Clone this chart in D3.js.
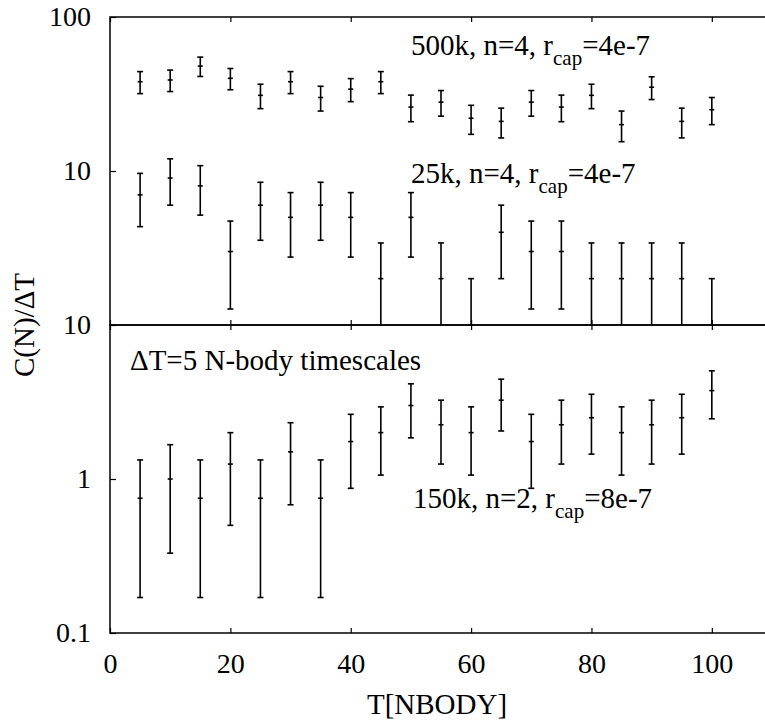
<!DOCTYPE html>
<meta charset="utf-8">
<style>
body { margin: 0; background: #fff; }
text { font-family: "Liberation Serif", "Times New Roman", serif; fill: #000; }
.frame { fill: none; stroke: #000; stroke-width: 1.5px; }
.bar { stroke: #000; stroke-width: 1.6px; }
</style>
<body>
<script src="https://cdnjs.cloudflare.com/ajax/libs/d3/7.8.5/d3.min.js"></script>
<script>

// times (N-body units)
var times = [5, 10, 15, 20, 25, 30, 35, 40, 45, 50, 55, 60, 65, 70, 75, 80, 85, 90, 95, 100];

// 500k, n=4 (top panel)
var rate500k = [38, 39, 48, 40, 31, 38, 30, 34, 38, 26, 28, 22, 21, 28, 26, 31, 20, 35, 21, 25];
var err500k  = [6.2, 6.2, 6.9, 6.3, 5.6, 6.2, 5.5, 5.8, 6.2, 5.1, 5.3, 4.7, 4.6, 5.3, 5.1, 5.6, 4.5, 5.9, 4.6, 5.0];

// 25k, n=4 (top panel)
var rate25k = [7, 9, 8, 3, 6, 5, 6, 5, 2, 5, 2, 1, 4, 3, 3, 2, 2, 2, 2, 1];
var err25k  = [2.65, 3, 2.83, 1.73, 2.45, 2.24, 2.45, 2.24, 1.41, 2.24, 1.41, 1, 2, 1.73, 1.73, 1.41, 1.41, 1.41, 1.41, 1];

// 150k, n=2 (bottom panel)
var rate150k = [0.75, 1, 0.75, 1.25, 0.75, 1.5, 0.75, 1.75, 2, 3, 2.25, 2, 3.25, 1.75, 2.25, 2.5, 2, 2.25, 2.5, 3.75];
var err150k  = [0.58, 0.67, 0.58, 0.75, 0.58, 0.82, 0.58, 0.88, 0.94, 1.15, 1.0, 0.94, 1.2, 0.88, 1.0, 1.05, 0.94, 1.0, 1.05, 1.29];

var xTicks = [0, 20, 40, 60, 80, 100];

var svg = d3.select("body").append("svg")
    .attr("width", 765)
    .attr("height", 724);

var pLeft = 110, pRight = 772, pTop = 17, pMid = 325, pBottom = 633;

var x = d3.scaleLinear().domain([0, 110]).range([pLeft, pRight]);
var yTop = d3.scaleLog().domain([1, 100]).range([pMid, pTop]).clamp(true);
var yBot = d3.scaleLog().domain([0.1, 10]).range([pBottom, pMid]).clamp(true);

// panel frames
svg.append("rect").attr("class", "frame")
    .attr("x", pLeft).attr("y", pTop).attr("width", pRight - pLeft).attr("height", pMid - pTop);
svg.append("rect").attr("class", "frame")
    .attr("x", pLeft).attr("y", pMid).attr("width", pRight - pLeft).attr("height", pBottom - pMid);

function styleAxis(g) {
  g.select(".domain").remove();
  g.selectAll(".tick line").attr("stroke", "#000").attr("stroke-width", 1.2);
  g.selectAll(".tick text").style("font-size", "28px").style("font-family", "Liberation Serif");
}

// x ticks on every horizontal border
[pTop, pMid].forEach(function(yy) {
  svg.append("g").attr("transform", "translate(0," + yy + ")")
    .call(d3.axisBottom(x).tickValues(xTicks).tickSize(5).tickFormat(""))
    .call(styleAxis);
});
[pMid, pBottom].forEach(function(yy) {
  svg.append("g").attr("transform", "translate(0," + yy + ")")
    .call(d3.axisTop(x).tickValues(xTicks).tickSize(5).tickFormat(""))
    .call(styleAxis);
});
svg.append("g").attr("transform", "translate(0," + pBottom + ")")
  .call(d3.axisBottom(x).tickValues(xTicks).tickSize(0).tickPadding(20).tickFormat(d3.format("d")))
  .call(styleAxis);

// y axes
svg.append("g").attr("transform", "translate(" + pLeft + ",0)")
  .call(d3.axisLeft(yTop).tickValues([10, 100]).tickSizeInner(-6).tickSizeOuter(0).tickPadding(19)
    .tickFormat(d3.format("d")))
  .call(styleAxis);
svg.append("g").attr("transform", "translate(" + pLeft + ",0)")
  .call(d3.axisLeft(yBot).tickValues([0.1, 1, 10]).tickSizeInner(-6).tickSizeOuter(0).tickPadding(19)
    .tickFormat(function(d) { return d < 1 ? "0.1" : d3.format("d")(d); }))
  .call(styleAxis);

// error bars
function errorBars(vals, errs, y, lo) {
  var g = svg.append("g");
  var data = times.map(function(t, i) { return {t: t, v: vals[i], e: errs[i]}; });
  var pts = g.selectAll("g").data(data).enter().append("g");
  var up = function(d) { return y(d.v + d.e); };
  var dn = function(d) { return y(Math.max(d.v - d.e, lo)); };
  pts.append("line").attr("class", "bar")
    .attr("x1", function(d) { return x(d.t); }).attr("x2", function(d) { return x(d.t); })
    .attr("y1", up).attr("y2", dn);
  pts.append("line").attr("class", "bar")
    .attr("x1", function(d) { return x(d.t) - 3; }).attr("x2", function(d) { return x(d.t) + 3; })
    .attr("y1", up).attr("y2", up);
  pts.filter(function(d) { return d.v - d.e > lo; }).append("line").attr("class", "bar")
    .attr("x1", function(d) { return x(d.t) - 3; }).attr("x2", function(d) { return x(d.t) + 3; })
    .attr("y1", dn).attr("y2", dn);
  pts.append("line").attr("class", "bar")
    .attr("x1", function(d) { return x(d.t) - 2.5; }).attr("x2", function(d) { return x(d.t) + 2.5; })
    .attr("y1", function(d) { return y(d.v); }).attr("y2", function(d) { return y(d.v); });
}
errorBars(rate500k, err500k, yTop, 1);
errorBars(rate25k, err25k, yTop, 1);
errorBars(rate150k, err150k, yBot, 0.1);

// annotations
function label(xx, yy, main, tail) {
  var t = svg.append("text").attr("x", xx).attr("y", yy).style("font-size", "29px");
  t.append("tspan").text(main + "r");
  t.append("tspan").attr("dy", 10).style("font-size", "21px").text("cap");
  t.append("tspan").attr("dy", -10).text(tail);
}
label(411, 55, "500k, n=4, ", "=4e-7");
label(411, 183, "25k, n=4, ", "=4e-7");
label(413, 508, "150k, n=2, ", "=8e-7");
svg.append("text").attr("x", 130).attr("y", 370).style("font-size", "29px")
  .text("\u0394T=5 N-body timescales");

// axis titles
svg.append("text").attr("x", 437).attr("y", 714).attr("text-anchor", "middle")
  .style("font-size", "29px").text("T[NBODY]");
svg.append("text").attr("transform", "translate(34,325) rotate(-90)").attr("text-anchor", "middle")
  .style("font-size", "29px").text("C(N)/\u0394T");

</script>
</body>
